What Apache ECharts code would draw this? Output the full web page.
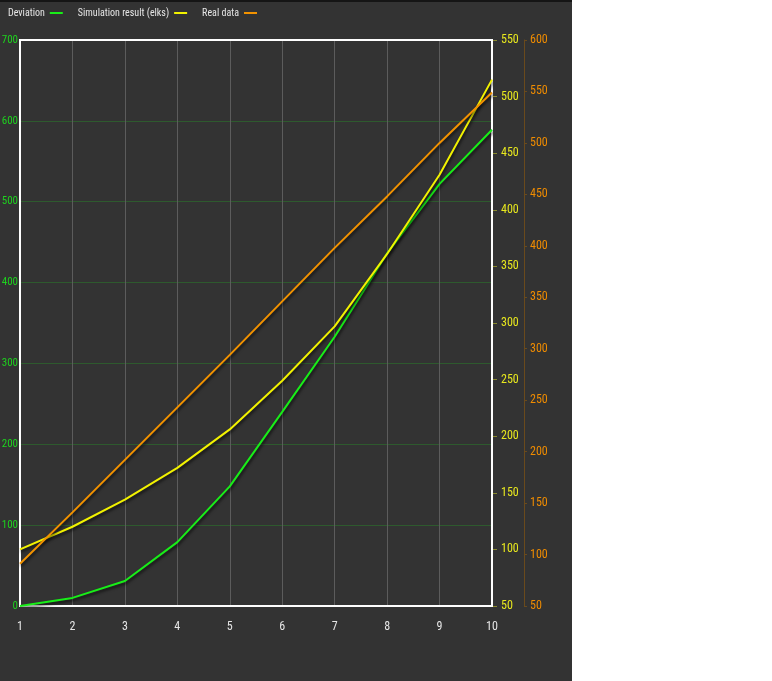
<!DOCTYPE html>
<html>
<head>
<meta charset="utf-8">
<script src="https://cdn.jsdelivr.net/npm/echarts@6/dist/echarts.min.js"></script>
<style>
html,body{margin:0;padding:0;background:#fff;}
#wrap{width:572px;height:681px;background:#333;position:relative;}
#bar{position:absolute;left:0;top:0;width:572px;height:2px;background:#151515;}
#chart{width:572px;height:681px;}
</style>
</head>
<body>
<div id="wrap"><div id="chart"></div><div id="bar"></div></div>
<script>
var categories = ['1','2','3','4','5','6','7','8','9','10'];
var deviation = [0, 10, 31, 79, 148, 240, 333, 436, 522, 589];
var simulation = [100, 120, 144, 172, 206, 249, 297, 361, 431, 515];
var realData = [91, 141, 192, 243, 294, 346, 398, 448, 500, 549];
var seriesNames = ['Deviation', 'Simulation result (elks)', 'Real data'];

var FONT = 'Roboto Condensed';
var colors = ['#18ee18', '#f2f200', '#f29200'];
var chart = echarts.init(document.getElementById('chart'), null, {renderer:'canvas'});
function mkSeries(name, data, idx){
  return {
    name: name, type: 'line', yAxisIndex: idx, data: data,
    symbol: 'none', smooth: false,
    lineStyle: {width: 2, color: colors[idx], shadowColor: 'rgba(0,0,0,0.7)', shadowBlur: 3, shadowOffsetY: 2, shadowOffsetX: 1},
    itemStyle: {color: colors[idx]}
  };
}
chart.setOption({
  backgroundColor: '#333',
  animation: false,
  textStyle: {fontFamily: FONT},
  legend: {
    left: 3, top: 3, align: 'right', itemGap: 15, itemTextGap: 4,
    icon: 'rect', itemWidth: 13, itemHeight: 2,
    textStyle: {color: '#e6e6e6', fontSize: 10, fontFamily: FONT},
    data: seriesNames
  },
  grid: {left: 20, right: 80, top: 40, bottom: 75, outerBoundsMode: 'none', containLabel: false, show: true, borderColor: '#ffffff', borderWidth: 2, backgroundColor: 'transparent', z: 3},
  xAxis: {
    type: 'category', data: categories, boundaryGap: false,
    axisLine: {show: false}, axisTick: {show: false},
    axisLabel: {color: '#e6e6e6', fontSize: 12, fontFamily: FONT, margin: 15},
    splitLine: {show: true, lineStyle: {color: '#5c5c5c', width: 1}}
  },
  yAxis: [
    {type: 'value', min: 0, max: 700, interval: 100, position: 'left',
     axisLine: {show: false}, axisTick: {show: false},
     axisLabel: {color: '#1ed21e', fontSize: 11, fontFamily: FONT, margin: 2},
     splitLine: {show: true, lineStyle: {color: '#2e5a2e', width: 1}}},
    {type: 'value', min: 50, max: 550, interval: 50, position: 'right', offset: 0,
     axisLine: {show: false}, axisTick: {show: true, length: 5, lineStyle: {color: '#8a8a30'}},
     axisLabel: {color: '#e8e81e', fontSize: 12, fontFamily: FONT, margin: 9},
     splitLine: {show: false}},
    {type: 'value', min: 50, max: 600, interval: 50, position: 'right', offset: 32,
     axisLine: {show: true, lineStyle: {color: '#6a4a1c', width: 1}}, axisTick: {show: true, length: 3, lineStyle: {color: '#6a4a1c'}},
     axisLabel: {color: '#f08c00', fontSize: 12, fontFamily: FONT, margin: 6},
     splitLine: {show: false}}
  ],
  series: [
    mkSeries(seriesNames[0], deviation, 0),
    mkSeries(seriesNames[1], simulation, 1),
    mkSeries(seriesNames[2], realData, 2)
  ]
});
</script>
</body>
</html>
